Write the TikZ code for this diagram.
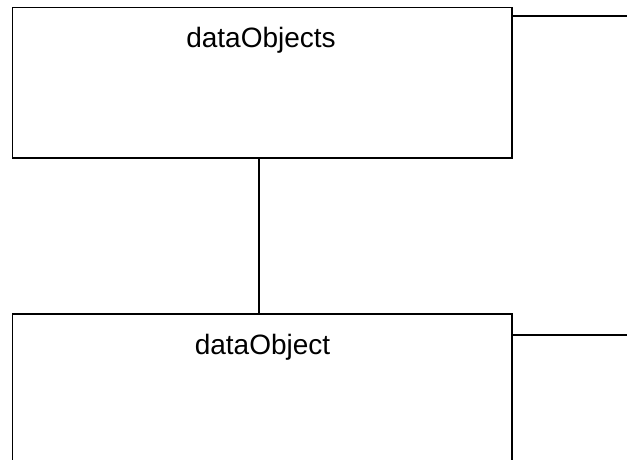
\documentclass[tikz,border=0pt]{standalone}
\usepackage{fontspec}
\setmainfont{Liberation Sans}
\begin{document}
\begin{tikzpicture}[x=1pt,y=1pt,
  box/.style={draw=black, line width=1.5pt, rectangle, inner sep=0pt, minimum width=499.5pt},
  lbl/.style={anchor=base, font=\fontsize{28}{32}\selectfont, inner sep=0pt},
  conn/.style={draw=black, line width=1.5pt}]
\useasboundingbox (0,0) rectangle (627,460);
\clip (0,0) rectangle (627,460);
\node[box, minimum height=150.5pt] (objs) at (262.25,377.25) {};
\node[box, minimum height=160pt] (obj) at (262.25,66) {};
\node[lbl] (tobjs) at (261,412) {dataObjects};
\node[lbl] (tobj) at (262.5,105) {dataObject};
\coordinate (c1) at (259,0);
\coordinate (e1) at (627,444);
\coordinate (e2) at (627,125);
\draw[conn] (objs.south -| c1) -- (obj.north -| c1);
\draw[conn] (objs.east |- e1) -- (e1);
\draw[conn] (obj.east |- e2) -- (e2);
\end{tikzpicture}
\end{document}
